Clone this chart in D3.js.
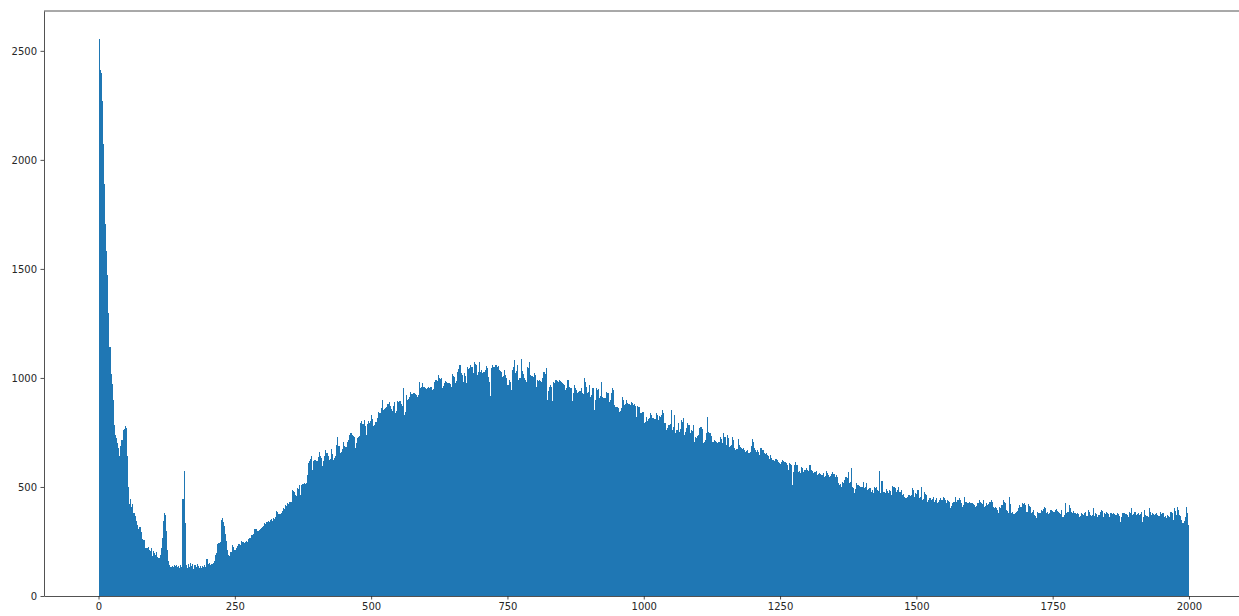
<!DOCTYPE html>
<html><head><meta charset="utf-8">
<script src="https://cdn.jsdelivr.net/npm/d3@7"></script>
<style>body{margin:0;background:#fff}svg{display:block}text{font-family:"DejaVu Sans",sans-serif}</style>
</head><body><svg id="chart" width="1239" height="616"></svg>
<script>
const binStart = 0;
const binWidth = 2;
// counts for bins [0,2), [2,4), ..., in groups of 250 units
const counts0to250 = [2555,2410,2400,2270,2075,1890,1705,1580,1470,1300,1140,1020,970,900,785,740,725,700,680,640,690,715,760,765,780,
770,640,500,420,445,410,420,380,365,345,325,305,318,315,295,262,258,255,222,220,225,212,205,218,182,
205,195,190,204,180,172,188,218,268,345,380,370,300,210,160,140,135,138,132,140,136,142,133,138,130,
140,135,445,575,335,140,128,145,132,150,138,145,126,140,132,145,138,130,136,128,138,132,140,135,168,
145,150,142,148,146,152,160,188,195,238,242,248,350,356,340,322,285,250,212,190,185,200,232,225,210];
const counts250to500 = [212,222,228,238,240,236,250,248,242,246,250,248,262,268,265,280,278,284,305,308,300,296,304,306,312,
316,322,335,330,338,342,338,348,352,345,358,355,360,388,385,378,376,382,392,403,398,417,412,425,420,
433,430,486,480,478,462,458,496,492,508,462,510,512,518,515,520,555,610,620,628,642,580,617,624,620,
617,637,662,640,633,596,620,642,670,655,642,624,630,673,650,624,633,640,693,731,690,656,662,675,708,
690,685,682,708,715,739,747,740,734,727,679,700,724,728,735,794,801,790,805,780,739,790,801,795,801];
const counts500to750 = [830,810,780,785,800,815,846,841,838,860,899,853,856,862,868,880,891,870,856,850,870,891,
841,850,896,888,894,880,872,953,830,845,921,899,905,914,937,925,930,933,928,921,
914,920,983,953,960,976,960,955,948,952,960,953,957,960,945,950,983,991,985,1014,
999,995,999,953,965,976,988,982,976,979,972,960,1018,1010,1006,976,985,1029,1040,1059,
1021,1015,983,1021,1010,976,1049,1040,1044,1059,1050,1021,1074,1065,1059,1014,1025,1074,1029,1035,
1021,1029,1035,1055,1045,1006,980,915,1044,1059,1050,1052,
1059,1050,1055,1037,1032,1029,1006,1010,1037,1014,1000];
const counts750to1000 = [968,991,980,945,1037,1050,1083,1021,1030,1059,991,1000,1086,1034,1020,999,990,983,1052,1045,1074,1014,1010,1006,1021,
1015,960,991,985,991,988,980,999,1029,1020,1044,899,940,960,968,960,892,983,975,991,985,983,991,985,983,
976,970,968,945,955,991,960,955,953,892,930,968,953,945,930,937,940,953,930,925,999,980,960,930,935,
968,914,920,953,853,900,953,945,950,907,915,983,914,910,907,937,930,930,891,900,933,953,945,876,868,
865,861,846,850,861,911,900,876,880,899,884,880,876,891,885,876,880,870,823,871,865,868,838,845,846];
const counts1000to1250 = [792,800,823,804,810,815,838,830,815,812,810,838,830,807,826,820,830,853,840,792,761,770,784,784,790,
853,761,775,830,746,760,792,754,765,807,800,815,739,750,769,792,785,746,761,755,784,708,731,725,734,
740,769,777,765,700,708,715,746,823,750,746,746,735,708,715,710,708,700,705,708,731,720,700,746,730,
692,739,725,685,690,692,731,715,677,669,675,719,692,685,677,672,680,669,662,665,669,654,660,688,719,
705,677,670,662,669,660,646,677,670,669,654,650,654,646,640,627,646,635,624,618,628,627,624,615,611];
const counts1250to1500 = [605,616,624,618,616,608,600,578,611,605,601,510,570,601,616,600,570,575,563,593,585,570,578,580,585,
578,575,601,578,572,563,570,568,575,555,560,566,560,555,563,547,550,575,565,555,547,550,560,570,560,
547,555,545,517,509,512,502,524,520,532,547,540,570,517,525,585,502,495,471,490,520,509,505,502,502,
498,524,494,500,517,486,490,494,479,485,471,502,495,498,486,480,575,471,529,479,475,471,489,480,471,
486,480,463,505,498,494,479,485,502,479,475,486,463,468,456,448,455,463,463,458,463,494,485,456,474];
const counts1500to1750 = [470,486,448,455,502,440,445,479,470,463,433,440,448,440,445,456,433,438,448,425,430,440,448,442,456,
448,440,425,440,435,433,402,415,425,430,456,433,438,440,448,440,425,410,418,452,433,428,425,433,428,
425,428,422,417,410,415,425,440,432,425,420,440,410,415,425,417,422,433,440,432,410,402,408,402,395,
379,410,405,417,440,432,425,394,388,379,456,420,379,384,376,379,387,392,402,417,410,410,428,420,425,
418,387,422,415,410,379,385,394,372,368,356,387,382,379,394,390,398,410,402,379,384,376,379,394,390];
const counts1750to2000 = [387,383,394,398,392,387,379,375,394,364,370,425,379,383,387,417,405,387,382,390,379,374,381,376,361,
366,379,376,372,379,383,367,394,386,372,367,370,402,367,379,374,364,370,387,394,388,364,379,374,387,
379,375,364,382,377,379,376,372,371,379,375,367,341,360,379,382,377,376,370,364,387,382,402,371,376,
387,371,376,379,371,375,387,341,360,394,371,366,364,402,385,371,379,374,371,376,379,371,367,387,376,
380,382,364,368,356,371,366,364,387,380,349,402,390,371,406,395,371,365,349,333,345,364,410,380,326];
const xTickValues = [0,250,500,750,1000,1250,1500,1750,2000];
const yTickValues = [0,500,1000,1500,2000,2500];

const counts = [].concat(counts0to250, counts250to500, counts500to750, counts750to1000,
  counts1000to1250, counts1250to1500, counts1500to1750, counts1750to2000);
const bins = counts.map((n, i) => ({x0: binStart + i * binWidth, x1: binStart + (i + 1) * binWidth, n}));

const svg = d3.select("#chart");
const mLeft = 44, mTop = 11, mBottom = 596, mRight = 1243.5;
const xMin = binStart, xMax = binStart + counts.length * binWidth;
const pad = (xMax - xMin) * 0.05;
const x = d3.scaleLinear().domain([xMin - pad, xMax + pad]).range([mLeft, mRight]);
const y = d3.scaleLinear().domain([0, d3.max(counts) * 1.05]).range([mBottom, mTop]);

svg.append("g").selectAll("rect").data(bins).join("rect")
  .attr("x", d => x(d.x0))
  .attr("width", d => x(d.x1) - x(d.x0))
  .attr("y", d => y(d.n))
  .attr("height", d => y(0) - y(d.n))
  .attr("fill", "#1f77b4")
  .attr("shape-rendering", "crispEdges");

const xAxis = svg.append("g").attr("transform", `translate(0,${mBottom})`)
  .call(d3.axisBottom(x).tickValues(xTickValues).tickFormat(d3.format("d")).tickSize(3.5).tickPadding(3.5).tickSizeOuter(0));
const yAxis = svg.append("g").attr("transform", `translate(${mLeft},0)`)
  .call(d3.axisLeft(y).tickValues(yTickValues).tickFormat(d3.format("d")).tickSize(3.5).tickPadding(3.5).tickSizeOuter(0));
[xAxis, yAxis].forEach(g => {
  g.selectAll("text").attr("font-size", 10).attr("font-family", "DejaVu Sans, sans-serif").attr("fill", "#262626");
  g.selectAll("line").attr("stroke", "#262626").attr("stroke-width", 0.8);
  g.select(".domain").attr("stroke", "#262626").attr("stroke-width", 0.8);
});
svg.append("line").attr("x1", mLeft).attr("x2", mRight).attr("y1", mTop).attr("y2", mTop)
  .attr("stroke", "#262626").attr("stroke-width", 0.8);
svg.append("line").attr("x1", mRight).attr("x2", mRight).attr("y1", mTop).attr("y2", mBottom)
  .attr("stroke", "#262626").attr("stroke-width", 0.8);
</script></body></html>
